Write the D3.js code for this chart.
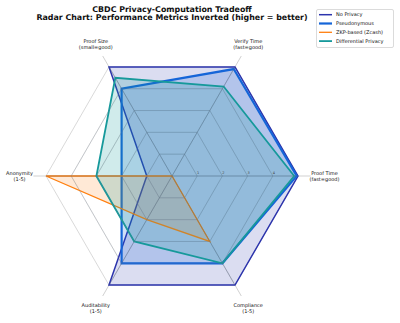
<!DOCTYPE html>
<html><head><meta charset="utf-8">
<script src="https://cdn.jsdelivr.net/npm/d3@7"></script>
<style>body{margin:0;background:#fff}svg{display:block}text{font-family:"DejaVu Sans",sans-serif}</style>
</head><body>
<svg id="c" width="400" height="323"></svg>
<script>
// axes in counter-clockwise order starting at 0° (right)
const axes = [
  ["Proof Time","(fast=good)"],
  ["Verify Time","(fast=good)"],
  ["Proof Size","(small=good)"],
  ["Anonymity","(1-5)"],
  ["Auditability","(1-5)"],
  ["Compliance","(1-5)"]
];
const seriesNames = ["No Privacy","Pseudonymous","ZKP-based (Zcash)","Differential Privacy"];
const noPrivacy    = [5, 5, 5, 1, 5, 5];
const pseudonymous = [4.95, 4.9, 4.0, 2, 4, 4];
const zkp          = [0, 0, 0, 5, 2, 3];
const diffPrivacy  = [4.85, 4.1, 4.5, 3, 3, 4];
const radialTicks = [1, 2, 3, 4];
const titleLines = ["CBDC Privacy-Computation Tradeoff","Radar Chart: Performance Metrics Inverted (higher = better)"];

const colors = ["#2c34ad", "#1565d8", "#ff7f0e", "#16999b"];
const widths = [1.5, 2.2, 1.3, 1.8];
const fillOp = [0.17, 0.2, 0.17, 0.2];
const data = [noPrivacy, pseudonymous, zkp, diffPrivacy];

const svg = d3.select("#c");
const cx = 172, cy = 176;
const r = d3.scaleLinear().domain([0, 5.5]).range([0, 138.6]);
const ang = i => i * Math.PI * 2 / axes.length; // math angle, ccw
const pt = (i, v) => [cx + r(v) * Math.cos(ang(i)), cy - r(v) * Math.sin(ang(i))];

const g = svg.append("g");
// grid hexagons
[1,2,3,4,5].forEach(l => {
  g.append("path")
    .attr("d", d3.line()(axes.map((a, i) => pt(i, l))) + "Z")
    .attr("fill", "none").attr("stroke", "#c8c8c8").attr("stroke-width", 0.7);
});
// spokes
axes.forEach((a, i) => {
  const p = pt(i, 5.5);
  g.append("line").attr("x1", cx).attr("y1", cy).attr("x2", p[0]).attr("y2", p[1])
    .attr("stroke", "#bdbdbd").attr("stroke-width", 0.7);
});

// series
data.forEach((vals, s) => {
  const pts = vals.map((v, i) => pt(i, v));
  svg.append("path")
    .attr("d", d3.line()(pts) + "Z")
    .attr("fill", colors[s]).attr("fill-opacity", fillOp[s])
    .attr("stroke", colors[s]).attr("stroke-width", widths[s])
    .attr("stroke-linejoin", "miter");
});

// grid lines over fills (faint)
[1,2,3,4].forEach(l => {
  svg.append("path")
    .attr("d", d3.line()(axes.map((a, i) => pt(i, l))) + "Z")
    .attr("fill", "none").attr("stroke", "#6f7f8f").attr("stroke-opacity", 0.35).attr("stroke-width", 0.6);
});
axes.forEach((a, i) => {
  const p = pt(i, 5);
  svg.append("line").attr("x1", cx).attr("y1", cy).attr("x2", p[0]).attr("y2", p[1])
    .attr("stroke", "#55657a").attr("stroke-opacity", 0.45).attr("stroke-width", 0.7);
});

// radial tick labels
radialTicks.forEach(t => {
  const p = pt(0, t);
  svg.append("text").attr("x", p[0] + 1).attr("y", p[1] - 2)
    .attr("font-size", 3.5).attr("fill", "#444").attr("text-anchor", "middle").text(t);
});

// axis labels
axes.forEach((a, i) => {
  const p = pt(i, 6.05);
  const t = svg.append("text").attr("font-size", 5).attr("fill", "#111").attr("text-anchor", "middle");
  t.append("tspan").attr("x", p[0]).attr("y", p[1] - 1).text(a[0]);
  t.append("tspan").attr("x", p[0]).attr("y", p[1] + 4.7).text(a[1]);
});

// title
titleLines.forEach((s, k) => {
  svg.append("text").attr("x", 172).attr("y", 11.8 + k * 7.8)
    .attr("text-anchor", "middle").attr("font-size", 7.9).attr("font-weight", "bold")
    .attr("fill", "#111").text(s);
});

// legend
const lg = svg.append("g");
lg.append("rect").attr("x", 316.5).attr("y", 9.5).attr("width", 77).attr("height", 38)
  .attr("rx", 1.5).attr("fill", "#fff").attr("stroke", "#cccccc").attr("stroke-width", 0.7);
seriesNames.forEach((n, s) => {
  const y = 14.7 + s * 8.8;
  lg.append("line").attr("x1", 319).attr("x2", 332).attr("y1", y).attr("y2", y)
    .attr("stroke", colors[s]).attr("stroke-width", widths[s]);
  lg.append("text").attr("x", 336).attr("y", y + 1.7).attr("font-size", 5).attr("fill", "#111").text(n);
});
</script>
</body></html>
